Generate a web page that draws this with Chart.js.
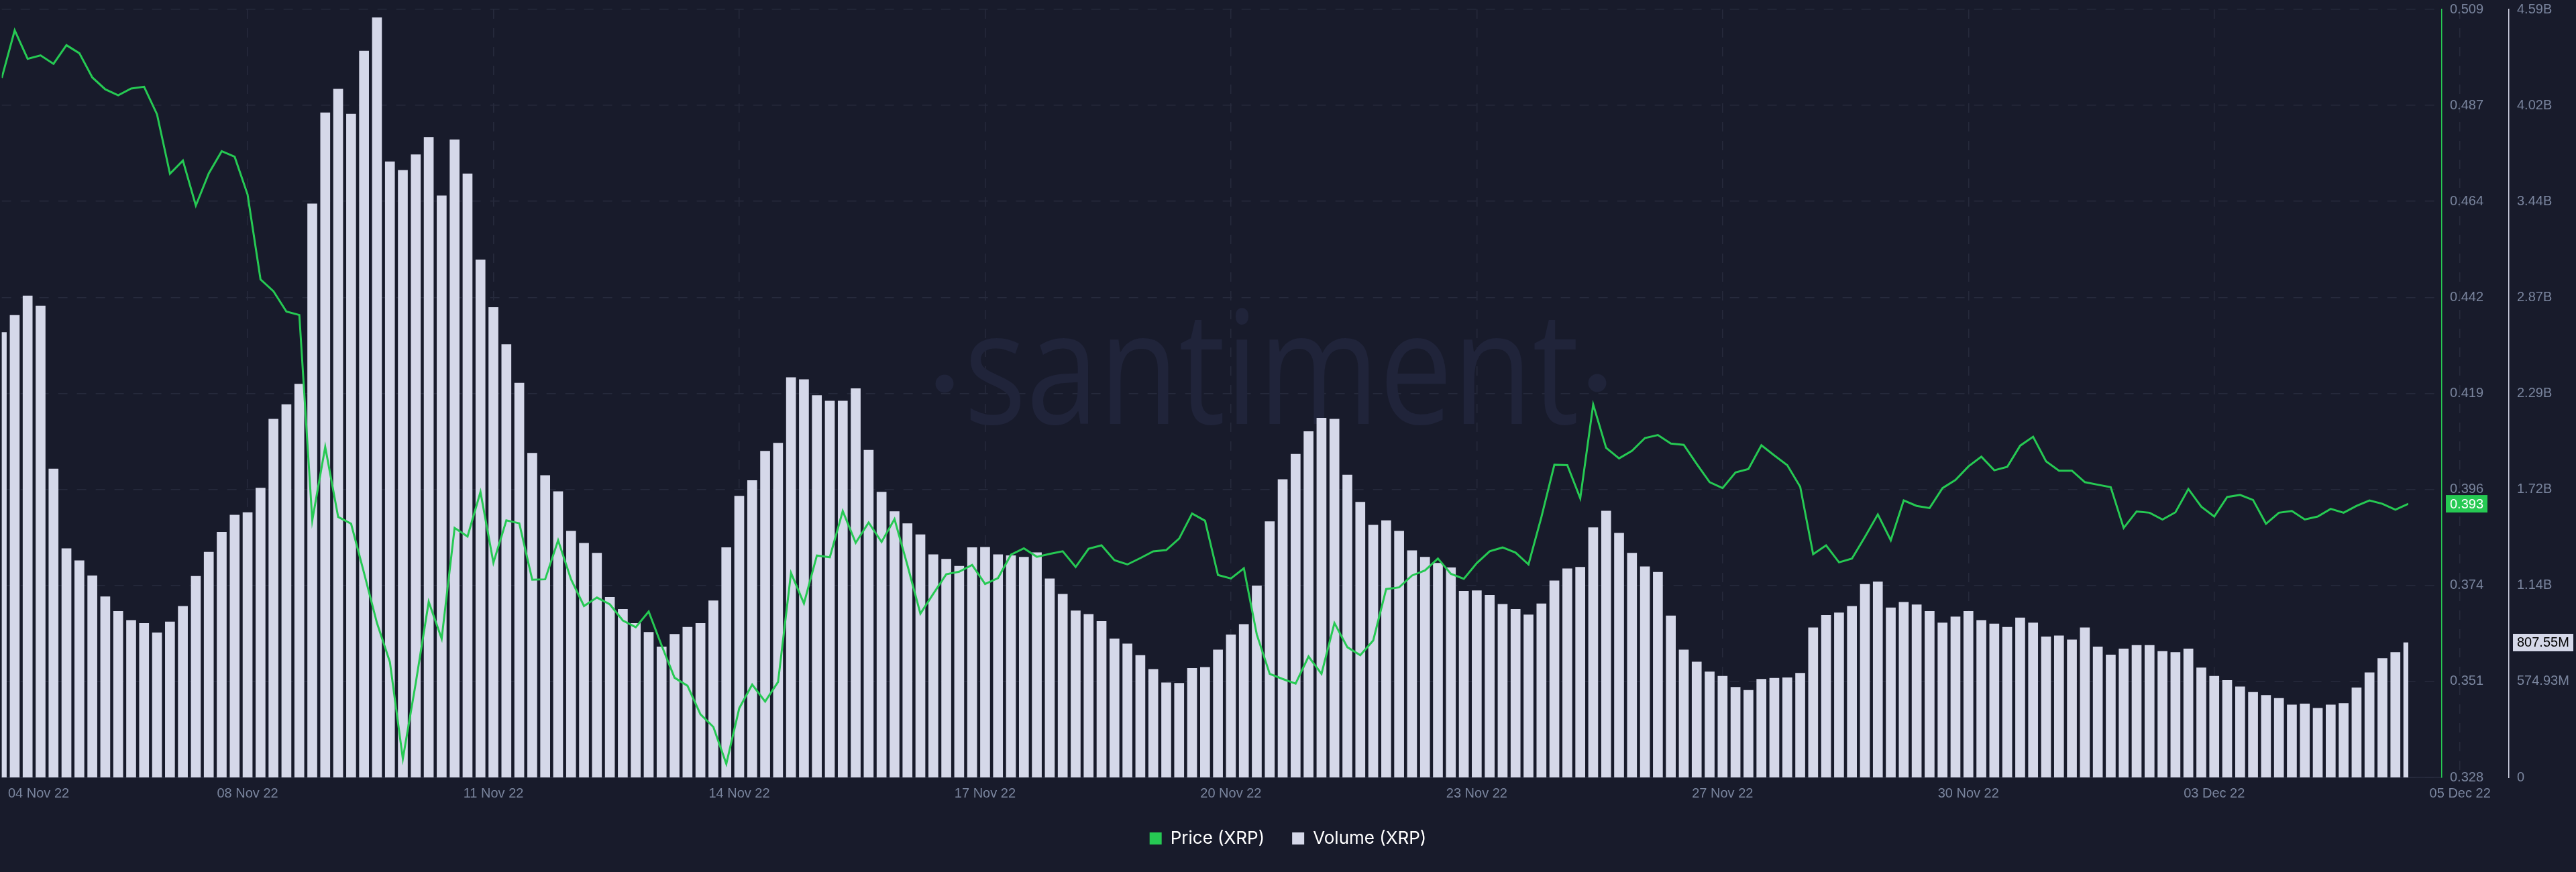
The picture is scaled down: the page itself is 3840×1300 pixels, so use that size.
<!DOCTYPE html>
<html>
<head>
<meta charset="utf-8">
<title>XRP price and volume</title>
<script src="https://cdn.jsdelivr.net/npm/chart.js@4.4.0/dist/chart.umd.min.js"></script>
<style>
  html, body { margin: 0; padding: 0; background: #181b2b; }
  canvas { display: block; }
</style>
</head>
<body>
<canvas id="myChart" width="3840" height="1300"></canvas>
<script>
// volume per candle, in billions of XRP
const volumeXrp = [
  2.665, 2.767, 2.884, 2.824, 1.847, 1.370, 1.298, 1.208, 1.082, 0.995,
  0.941, 0.923, 0.866, 0.932, 1.025, 1.205, 1.349, 1.469, 1.571, 1.586,
  1.733, 2.146, 2.233, 2.356, 3.435, 3.981, 4.122, 3.972, 4.350, 4.550,
  3.687, 3.636, 3.729, 3.834, 3.483, 3.819, 3.615, 3.100, 2.815, 2.593,
  2.362, 1.942, 1.808, 1.712, 1.475, 1.403, 1.343, 1.079, 1.007, 0.923,
  0.869, 0.782, 0.857, 0.899, 0.923, 1.058, 1.376, 1.685, 1.778, 1.954,
  2.002, 2.395, 2.383, 2.287, 2.254, 2.254, 2.329, 1.960, 1.709, 1.592,
  1.520, 1.454, 1.334, 1.307, 1.265, 1.376, 1.379, 1.334, 1.328, 1.319,
  1.346, 1.190, 1.097, 0.998, 0.977, 0.935, 0.830, 0.800, 0.731, 0.647,
  0.567, 0.564, 0.653, 0.659, 0.764, 0.854, 0.917, 1.148, 1.532, 1.784,
  1.936, 2.071, 2.152, 2.146, 1.811, 1.649, 1.511, 1.538, 1.475, 1.358,
  1.319, 1.283, 1.256, 1.115, 1.118, 1.091, 1.037, 1.007, 0.974, 1.040,
  1.178, 1.250, 1.259, 1.496, 1.595, 1.463, 1.343, 1.262, 1.229, 0.968,
  0.764, 0.692, 0.632, 0.606, 0.540, 0.522, 0.588, 0.594, 0.597, 0.624,
  0.896, 0.971, 0.986, 1.025, 1.157, 1.172, 1.016, 1.049, 1.034, 0.995,
  0.926, 0.962, 0.995, 0.941, 0.920, 0.899, 0.956, 0.926, 0.842, 0.848,
  0.824, 0.896, 0.782, 0.734, 0.770, 0.791, 0.791, 0.755, 0.749, 0.770,
  0.656, 0.606, 0.581, 0.543, 0.510, 0.492, 0.474, 0.435, 0.441, 0.414,
  0.435, 0.444, 0.537, 0.627, 0.713, 0.749, 0.80755
];

// price in USD
const priceXrp = [
  0.4933, 0.5045, 0.4978, 0.4986, 0.4966, 0.5010, 0.4991, 0.4934, 0.4906, 0.4892,
  0.4908, 0.4912, 0.4847, 0.4707, 0.4738, 0.4632, 0.4708, 0.4760, 0.4747, 0.4658,
  0.4458, 0.4430, 0.4382, 0.4374, 0.3890, 0.4063, 0.3898, 0.3882, 0.3766, 0.3648,
  0.3556, 0.3328, 0.3507, 0.3698, 0.3611, 0.3872, 0.3852, 0.3957, 0.3790, 0.3890,
  0.3883, 0.3750, 0.3751, 0.3843, 0.3751, 0.3688, 0.3708, 0.3692, 0.3654, 0.3638,
  0.3675, 0.3595, 0.3519, 0.3500, 0.3433, 0.3403, 0.3316, 0.3447, 0.3503, 0.3463,
  0.3509, 0.3766, 0.3694, 0.3807, 0.3803, 0.3912, 0.3837, 0.3885, 0.3839, 0.3893,
  0.3784, 0.3670, 0.3717, 0.3763, 0.3769, 0.3785, 0.3740, 0.3754, 0.3809, 0.3824,
  0.3804, 0.3811, 0.3817, 0.3780, 0.3823, 0.3831, 0.3796, 0.3786, 0.3801, 0.3817,
  0.3820, 0.3847, 0.3906, 0.3889, 0.3761, 0.3753, 0.3777, 0.3621, 0.3528, 0.3516,
  0.3505, 0.3569, 0.3528, 0.3648, 0.3591, 0.3572, 0.3607, 0.3728, 0.3732, 0.3760,
  0.3772, 0.3800, 0.3764, 0.3752, 0.3789, 0.3817, 0.3826, 0.3814, 0.3786, 0.3898,
  0.4021, 0.4020, 0.3942, 0.4163, 0.4061, 0.4036, 0.4054, 0.4084, 0.4091, 0.4071,
  0.4068, 0.4023, 0.3980, 0.3966, 0.4003, 0.4011, 0.4067, 0.4043, 0.4020, 0.3969,
  0.3810, 0.3831, 0.3791, 0.3800, 0.3851, 0.3904, 0.3843, 0.3937, 0.3924, 0.3919,
  0.3966, 0.3985, 0.4017, 0.4040, 0.4008, 0.4016, 0.4066, 0.4087, 0.4029, 0.4007,
  0.4007, 0.3980, 0.3974, 0.3968, 0.3872, 0.3911, 0.3908, 0.3892, 0.3909, 0.3964,
  0.3922, 0.3899, 0.3945, 0.3950, 0.3938, 0.3882, 0.3908, 0.3912, 0.3892, 0.3899,
  0.3917, 0.3908, 0.3924, 0.3937, 0.3929, 0.3915, 0.3929
];

const dateLabels = ["04 Nov 22", "08 Nov 22", "11 Nov 22", "14 Nov 22", "17 Nov 22", "20 Nov 22",
  "23 Nov 22", "27 Nov 22", "30 Nov 22", "03 Dec 22", "05 Dec 22"];
const dateTickAt = [2.85, 19, 38, 57, 76, 95, 114, 133, 152, 171, 190];

const priceTickLabels = ["0.328", "0.351", "0.374", "0.396", "0.419", "0.442", "0.464", "0.487", "0.509"];
const volumeTickLabels = ["0", "574.93M", "1.14B", "1.72B", "2.29B", "2.87B", "3.44B", "4.02B", "4.59B"];

const priceMin = 0.3284, priceMax = 0.50944;
const volumeMax = 4.59944e9;

const GREEN = "#26c953";
const LILAC = "#d5d8e9";
const GRID = "#262a3c";
const TICK = "#7a859e";

Chart.defaults.font.family = '"Liberation Sans", Arial, sans-serif';

// right axes: fixed width, no extra top/bottom room for the end labels
function fixRightAxis(scale) {
  scale.width = 100;
  scale.paddingTop = 0;
  scale.paddingBottom = 0;
}

// faint santiment mark behind the data
const watermark = {
  id: "watermark",
  beforeDatasetsDraw(chart) {
    const c = chart.ctx;
    c.save();
    c.fillStyle = "#20243a";
    c.font = '234px "Open Sans"';
    c.textBaseline = "alphabetic";
    const w = c.measureText("santiment").width;
    c.save();
    c.translate(1437, 632);
    c.scale(917 / w, 1);
    c.fillText("santiment", 0, 0);
    c.restore();
    c.beginPath();
    c.arc(1408, 572, 13.5, 0, Math.PI * 2);
    c.arc(2381, 571, 13.5, 0, Math.PI * 2);
    c.fill();
    c.restore();
  }
};

// last value markers on both y axes
const lastBadges = {
  id: "lastBadges",
  afterDraw(chart) {
    const c = chart.ctx;
    const yP = chart.scales.yPrice;
    const yV = chart.scales.yVol;
    const p = priceXrp[priceXrp.length - 1];
    const v = volumeXrp[volumeXrp.length - 1];
    c.save();
    c.font = '20px "Liberation Sans", Arial, sans-serif';
    c.textBaseline = "middle";
    c.textAlign = "left";

    const py = yP.getPixelForValue(p);
    c.fillStyle = GREEN;
    c.fillRect(yP.left + 6, py - 13, 62, 26);
    c.fillStyle = "#ffffff";
    c.fillText(p.toFixed(3), yP.left + 12, py + 1);

    const vy = yV.getPixelForValue(v * 1e9);
    c.fillStyle = LILAC;
    c.fillRect(yV.left + 6, vy - 13, 90, 26);
    c.fillStyle = "#000000";
    c.fillText((v * 1000).toFixed(2) + "M", yV.left + 12, vy + 1);
    c.restore();
  }
};

document.addEventListener("DOMContentLoaded", function () {
  const ctx = document.getElementById("myChart").getContext("2d");

  const myChart = new Chart(ctx, {
    type: "bar",
    data: {
      datasets: [
        {
          type: "line",
          label: "Price (XRP)",
          data: priceXrp.map((p, i) => ({ x: i, y: p })),
          yAxisID: "yPrice",
          borderColor: GREEN,
          backgroundColor: GREEN,
          borderWidth: 3,
          pointRadius: 0,
          tension: 0,
          fill: false,
          order: 0,
          clip: { left: 0, top: 0, right: -50, bottom: 0 }
        },
        {
          type: "bar",
          label: "Volume (XRP)",
          data: volumeXrp.map((v, i) => ({ x: i, y: v * 1e9 })),
          yAxisID: "yVol",
          backgroundColor: LILAC,
          borderWidth: 0,
          barThickness: 14,
          order: 1,
          clip: { left: 0, top: 0, right: -50, bottom: 0 }
        }
      ]
    },
    options: {
      responsive: false,
      animation: false,
      devicePixelRatio: 1,
      layout: { padding: { top: 14, right: 0, bottom: 27, left: 0 } },
      plugins: {
        tooltip: { enabled: false },
        legend: {
          position: "bottom",
          labels: {
            color: "#ffffff",
            font: { family: "Inter", size: 26 },
            boxWidth: 18,
            boxHeight: 18,
            padding: 41,
            generateLabels(chart) {
              const items = Chart.defaults.plugins.legend.labels.generateLabels(chart);
              items.forEach((it) => { it.lineWidth = 0; });
              return items;
            }
          }
        }
      },
      scales: {
        x: {
          type: "linear",
          min: 0,
          max: 188.59,
          offset: false,
          afterBuildTicks(scale) {
            scale.ticks = dateTickAt.map((v) => ({ value: v }));
          },
          afterFit(scale) { scale.height = 37; },
          ticks: {
            autoSkip: false,
            maxRotation: 0,
            color: TICK,
            font: { size: 20 },
            padding: 12,
            callback: (value, index) => dateLabels[index]
          },
          grid: {
            offset: false,
            drawTicks: false,
            color: (c) => (c.index === 0 ? "rgba(0,0,0,0)" : GRID),
            lineWidth: 1.5
          },
          border: { display: true, color: "#2a2e41", width: 1.5, dash: [14, 14] }
        },
        yPrice: {
          type: "linear",
          position: "right",
          weight: 1,
          min: priceMin,
          max: priceMax,
          afterBuildTicks(scale) {
            scale.ticks = priceTickLabels.map((_, k) => ({ value: priceMin + k * (priceMax - priceMin) / 8 }));
          },
          afterFit: fixRightAxis,
          ticks: {
            color: TICK,
            font: { size: 20 },
            padding: 12,
            callback: (value, index) => priceTickLabels[index]
          },
          grid: { drawTicks: false, color: GRID, lineWidth: 1.5 },
          border: { display: true, color: GREEN, width: 1.5, dash: [14, 14] }
        },
        yVol: {
          type: "linear",
          position: "right",
          weight: 2,
          min: 0,
          max: volumeMax,
          afterBuildTicks(scale) {
            scale.ticks = volumeTickLabels.map((_, k) => ({ value: k * volumeMax / 8 }));
          },
          afterFit: fixRightAxis,
          ticks: {
            color: TICK,
            font: { size: 20 },
            padding: 12,
            callback: (value, index) => volumeTickLabels[index]
          },
          grid: { display: false, drawTicks: false },
          border: { display: true, color: LILAC, width: 1.5 }
        }
      }
    },
    plugins: [watermark, lastBadges]
  });
});
</script>
</body>
</html>
